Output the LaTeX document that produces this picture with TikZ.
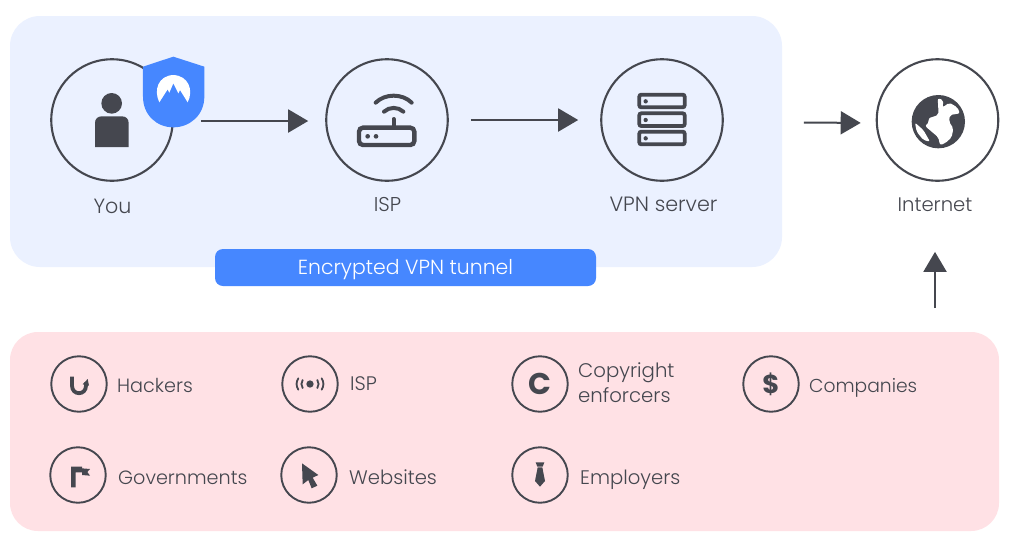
\documentclass[tikz,border=0pt]{standalone}
\usepackage{fontspec}
\setmainfont{Poppins Light}
\newfontfamily\iconfont{Poppins Bold}
\usetikzlibrary{arrows.meta}
\definecolor{ink}{HTML}{45474F}
\definecolor{bluepanel}{HTML}{EBF1FF}
\definecolor{pinkpanel}{HTML}{FFE1E5}
\definecolor{accent}{HTML}{4687FF}
\newcommand{\lsize}[1]{\fontsize{#1}{25}\selectfont}
\tikzset{
  bigcirc/.style={circle,draw=ink,line width=2.1pt,minimum size=121.5pt,inner sep=0pt},
  smallcirc/.style={circle,draw=ink,line width=1.9pt,minimum size=55.5pt,inner sep=0pt},
  biglabel/.style={font=\lsize{20},text=ink,inner sep=0pt,anchor=base},
  smalllabel/.style={font=\lsize{19.2},text=ink,inner sep=0pt,anchor=base west,align=left},
  flow/.style={draw=ink,line width=2pt,-{Triangle[length=20pt,width=23pt]}},
}
\begin{document}
\begin{tikzpicture}[x=1pt,y=-1pt]
\useasboundingbox (0,0) rectangle (1015,547);
\fill[white] (0,0) rectangle (1015,547);
\node[name=bluep,fill=bluepanel,rounded corners=30pt,minimum width=772pt,minimum height=251pt,inner sep=0pt] at (396,141.5) {};
\node[name=pinkp,fill=pinkpanel,rounded corners=28pt,minimum width=989pt,minimum height=199pt,inner sep=0pt] at (504.5,431.5) {};
\node[name=tunnel,fill=accent,rounded corners=8pt,minimum width=381pt,minimum height=37pt,inner sep=0pt,text=white,font=\lsize{20.4},text height=14.5pt,text depth=0pt] at (405.5,267.5) {Encrypted VPN tunnel};

\node[bigcirc,name=you] at (112,120) {};
\node[bigcirc,name=isp] at (387,120) {};
\node[bigcirc,name=vpn] at (662,120) {};
\node[bigcirc,name=inet] at (937.5,120) {};
\node[biglabel,name=youl,font=\lsize{20.6}] at (112.5,213) {You};
\node[biglabel,name=ispl] at (387.5,211.5) {ISP};
\node[biglabel,name=vpnl,font=\lsize{20.7}] at (663.5,211.5) {VPN server};
\node[biglabel,name=inetl,font=\lsize{19.6}] at (935,211.5) {Internet};

\draw[flow,shorten <=27pt,shorten >=17pt] ([yshift=-1pt]you.east) -- ([yshift=-1pt]isp.west);
\draw[flow,shorten <=22pt,shorten >=22pt] (isp) -- (vpn);
\draw[flow,shorten <=80pt,shorten >=15pt] ([yshift=-2pt]vpn.east) -- ([yshift=-3pt]inet.west);
\coordinate (inetarrow) at (935,308);
\draw[flow,shorten >=40pt] (inetarrow) -- (inetl.south);

% person + shield, in zoom coordinates
\begin{scope}[shift={(40,40)},x=.33333pt,y=-.33333pt]
  \fill[ink] (215,190) circle[radius=31];
  \fill[ink] (165,321) -- (165,249) .. controls (165,237) and (173,229) .. (185,229) -- (246,229) .. controls (258,229) and (266,237) .. (266,249) -- (266,321) -- cycle;
  \fill[accent] (400,50) -- (309,80) -- (309,170) .. controls (309,225) and (350,262) .. (400,262) .. controls (450,262) and (493,225) .. (493,170) -- (493,80) -- cycle;
  \fill[white] (358,187) .. controls (340,150) and (355,107) .. (400,105) .. controls (445,107) and (462,150) .. (443,187) -- (420,150) -- (415,160) -- (400,130) -- (388,158) -- (383,148) -- cycle;
\end{scope}

% router and server
\begin{scope}[shift={(320,50)},x=.33333pt,y=-.33333pt]
  \draw[ink,line width=4.4pt,rounded corners=4pt] (117,233) rectangle (283,285);
  \fill[ink] (143,259) circle[radius=7] (168,259) circle[radius=7];
  \draw[ink,line width=4pt,line cap=round] (221,207) -- (221,228);
  \draw[ink,line width=4pt,line cap=round] (167,158) .. controls (195,130) and (247,130) .. (275,158);
  \draw[ink,line width=4pt,line cap=round] (192,185) .. controls (208,170) and (234,170) .. (250,185);
  \foreach \yy in {134,190,245}{
    \draw[ink,line width=3.8pt,rounded corners=2pt] (958,\yy) rectangle (1094,\yy+38);
    \fill[ink] (977,\yy+20) circle[radius=6.5];
  }
\end{scope}

% globe
\begin{scope}[shift={(870,50)},x=.33333pt,y=-.33333pt]
  \fill[ink] (205,215) circle[radius=80];
  \fill[white,rounded corners=2pt] (203,145) -- (220,150) -- (218,172) -- (238,158) -- (262,172) -- (270,190) -- (240,195) -- (237,215) -- (250,235) -- (245,262) -- (225,280) -- (210,285) -- (205,262) -- (185,245) -- (165,228) -- (178,215) -- (175,205) -- (205,195) -- (205,175) -- cycle;
  \fill[white,rounded corners=2pt] (135,218) -- (160,240) -- (180,275) -- (160,270) -- (140,245) -- cycle;
\end{scope}

% threat circles
\node[smallcirc,name=hack] at (79,384) {};
\node[smallcirc,name=gov] at (78,475) {};
\node[smallcirc,name=ispb] at (310,384) {};
\node[smallcirc,name=web] at (309,475) {};
\node[smallcirc,name=copy] at (540,384) {};
\node[smallcirc,name=emp] at (540,475) {};
\node[smallcirc,name=comp] at (771,384) {};
\node[smalllabel,name=hackl] at (117,392) {Hackers};
\node[smalllabel,name=govl] at (118,484) {Governments};
\node[smalllabel,name=ispbl,font=\lsize{19.6}] at (350,390.5) {ISP};
\node[smalllabel,name=webl,font=\lsize{19.6}] at (349,484) {Websites};
\node[smalllabel,name=copyl,anchor=west,font=\lsize{19.7}] at (578,383) {Copyright\\enforcers};
\node[smalllabel,name=empl,font=\lsize{19.6}] at (580,484) {Employers};
\node[smalllabel,name=compl,font=\lsize{18.7}] at (809,392) {Companies};

% small icons, in the coordinates of the 3x crops
\begin{scope}[shift={(40,345)},x=.33333pt,y=-.33333pt]
  % hacker hook
  \draw[ink,line width=3.8pt] (96,95) -- (96,122) .. controls (96,152) and (138,152) .. (138,122) -- (138,112);
  \fill[ink] (143,102) -- (128,118) -- (147,122) -- cycle;
  % broadcast
  \fill[ink] (810,117) circle[radius=11];
  \draw[ink,line width=1.8pt,line cap=round] (775,100) .. controls (768,110) and (768,124) .. (775,134);
  \draw[ink,line width=1.8pt,line cap=round] (788,105) .. controls (783,112) and (783,122) .. (788,129);
  \draw[ink,line width=1.8pt,line cap=round] (845,100) .. controls (852,110) and (852,124) .. (845,134);
  \draw[ink,line width=1.8pt,line cap=round] (832,105) .. controls (837,112) and (837,122) .. (832,129);
\end{scope}
\begin{scope}[shift={(60,455)},x=.33333pt,y=-.33333pt]
  \fill[ink] (33,35) -- (66,35) -- (66,40) -- (90,42) -- (82,51) -- (90,62) -- (66,60) -- (66,52) -- (47,52) -- (47,97) -- (33,97) -- cycle;
\end{scope}
\begin{scope}[shift={(290,455)},x=.33333pt,y=-.33333pt]
  \fill[ink] (36,25) -- (85,60) -- (68,68) -- (82,92) -- (65,100) -- (55,75) -- (38,88) -- cycle;
\end{scope}
\begin{scope}[shift={(520,455)},x=.33333pt,y=-.33333pt]
  \fill[ink] (47,22) -- (73,22) -- (68,35) -- (52,35) -- cycle;
  \fill[ink] (53,37) -- (67,37) -- (75,78) -- (60,95) -- (45,78) -- cycle;
\end{scope}
\node[name=cglyph,text=ink,inner sep=0pt,font=\iconfont\fontsize{30}{30}\selectfont] at (copy.center) {C};
\node[name=dglyph,text=ink,inner sep=0pt,font=\iconfont\fontsize{26}{26}\selectfont] at (comp.center) {\$};
\end{tikzpicture}
\end{document}
